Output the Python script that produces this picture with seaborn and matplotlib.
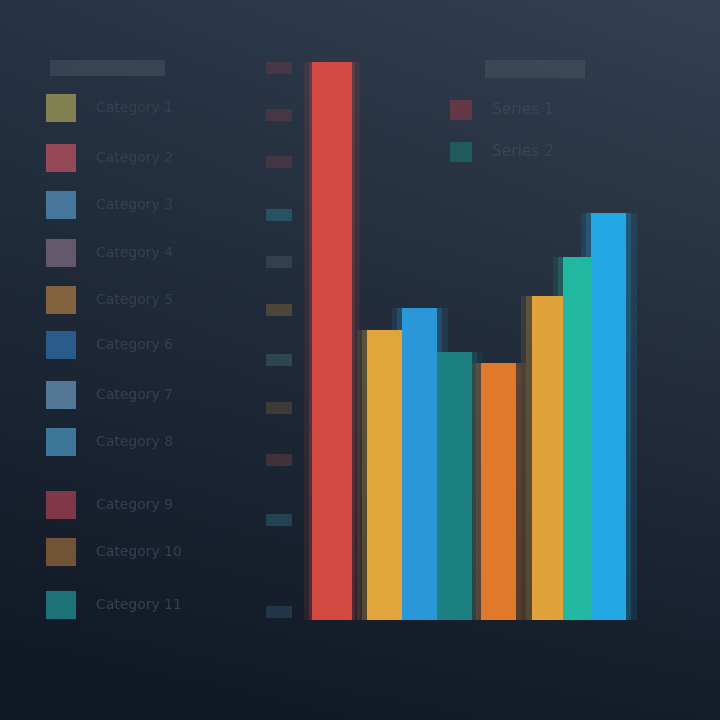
import matplotlib
matplotlib.use("Agg")
import matplotlib.pyplot as plt
import seaborn as sns
import pandas as pd
import numpy as np

# bar data (tallest bar = 100)
bar_labels = ["A", "B", "C", "D", "E", "F", "G", "H"]
bar_pos = [0.0, 1.5, 2.5, 3.5, 4.75, 6.2, 7.1, 7.9]
bar_values = [100, 52, 56, 48, 46, 58, 65, 73]
bar_colors = ["#d24a42", "#e0a63c", "#2a98d8", "#1d8080", "#e07a2a",
              "#e0a23a", "#20b8a0", "#22a8e2"]

# left legend
legend_labels = ["Category 1", "Category 2", "Category 3", "Category 4",
                 "Category 5", "Category 6", "Category 7", "Category 8",
                 "Category 9", "Category 10", "Category 11"]
legend_colors = ["#8c8a52", "#a24c58", "#4d80a8", "#6c5f72", "#8e6a3e",
                 "#2d6194", "#5a82a2", "#4280a4", "#8c3a4a", "#7c5a38",
                 "#1f7c82"]

# faint markers on the value axis
tick_colors = ["#5a3a44", "#5a3a44", "#5a3a44", "#2a6a78", "#3a5058",
               "#6a5a3a", "#3a5a60", "#5a4a3a", "#5a3a40", "#2a5a6a", "#2a4a5a"]

# right legend
series_labels = ["Series 1", "Series 2"]
series_colors = ["#7a3a44", "#1e6a6a"]

sns.set_theme(style="dark")
plt.rcParams["font.family"] = ["DejaVu Sans"]

fig = plt.figure(figsize=(7.2, 7.2), dpi=100)

# background gradient
bg = fig.add_axes([0, 0, 1, 1])
yy, xx = np.mgrid[0:1:200j, 0:1:200j]
top = np.array([0x27, 0x34, 0x45]) / 255
bot = np.array([0x12, 0x19, 0x26]) / 255
t = np.clip(yy * 0.85 + (1 - xx) * 0.25 * yy, 0, 1)[..., None]
img = top * (1 - t) + bot * t
img = img + (xx * (1 - yy) * 0.05)[..., None]
bg.imshow(np.clip(img, 0, 1), extent=[0, 720, 720, 0], aspect="auto")
bg.set_xlim(0, 720)
bg.set_ylim(720, 0)
bg.axis("off")

# left legend
bg.add_patch(plt.Rectangle((50, 60), 115, 16, color="#4a5564", alpha=0.5, lw=0))
legend_y = [108, 158, 205, 253, 300, 345, 395, 442, 505, 552, 605]
for y, lab, col in zip(legend_y, legend_labels, legend_colors):
    bg.add_patch(plt.Rectangle((46, y - 14), 30, 28, color=col, alpha=0.9, lw=0))
    bg.text(96, y, lab, color="#354050", fontsize=10, va="center")

# faint tick markers next to the value axis
tick_y = [68, 115, 162, 215, 262, 310, 360, 408, 460, 520, 612]
for y, col in zip(tick_y, tick_colors):
    bg.add_patch(plt.Rectangle((266, y - 6), 26, 12, color=col, alpha=0.6, lw=0))

# right legend
bg.add_patch(plt.Rectangle((485, 60), 100, 18, color="#4a5564", alpha=0.5, lw=0))
for y, lab, col in zip([110, 152], series_labels, series_colors):
    bg.add_patch(plt.Rectangle((450, y - 10), 22, 20, color=col, alpha=0.7, lw=0))
    bg.text(492, y, lab, color="#3a4656", fontsize=11, va="center")

# bars
ax = fig.add_axes([300 / 720, 1 - 620 / 720, 345 / 720, 558 / 720])
ax.patch.set_alpha(0)
df = pd.DataFrame({"pos": bar_pos, "value": bar_values, "label": bar_labels})
palette = dict(zip(bar_labels, bar_colors))

# soft glow behind the bars
for extra, a in [(0.6, 0.12), (0.3, 0.22)]:
    sns.barplot(data=df, x="pos", y="value", hue="label", palette=palette,
                native_scale=True, dodge=False, width=(1.0 + extra) / 0.8,
                alpha=a, saturation=1, legend=False, ax=ax, linewidth=0)

sns.barplot(data=df[df["label"] != "A"], x="pos", y="value", hue="label",
            palette=palette, native_scale=True, dodge=False, width=1.0 / 0.8,
            saturation=1, legend=False, ax=ax, linewidth=0)
sns.barplot(data=df[df["label"] == "A"], x="pos", y="value", hue="label",
            palette=palette, native_scale=True, dodge=False, width=1.15,
            saturation=1, legend=False, ax=ax, linewidth=0)

ax.set_xlim(-32 / 35, 313 / 35)
ax.set_ylim(0, 100)
ax.set_xlabel("")
ax.set_ylabel("")
ax.set_xticks([])
ax.set_yticks([])
for s in ax.spines.values():
    s.set_visible(False)

fig.savefig("out.png", dpi=100)
